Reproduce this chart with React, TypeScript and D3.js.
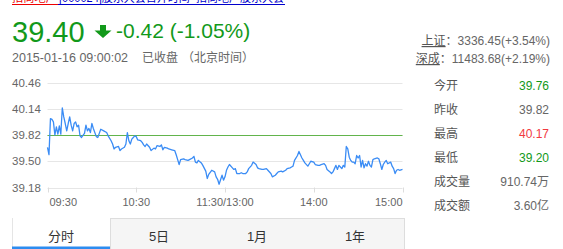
import React from 'react';
import * as d3 from 'd3';

// Intraday minute series: trading-minute index (0 = 09:30, 120 = 11:30/13:00, 240 = 15:00) and price
const minuteIdx = [
  0, 1, 2, 3, 4, 5, 6, 7, 8, 9, 10, 11, 12, 13, 14, 15, 16, 17, 18, 19, 20, 21, 22, 23, 25, 26, 27, 28, 29, 30,
  31, 33, 34, 35, 36, 38, 40, 41, 43, 44, 45, 46, 48, 49, 50, 52, 53, 54, 55, 56, 57, 58, 59, 60, 61, 63, 64, 65,
  66, 67, 69, 70, 72, 73, 74, 76, 77, 78, 79, 81, 82, 84, 86, 87, 88, 89, 90, 92, 93, 95, 96, 98, 99, 100, 101,
  102, 104, 105, 107, 108, 109, 111, 113, 114, 115, 116, 118, 119, 120, 121, 122, 123, 125, 126, 127, 128, 130,
  131, 132, 134, 135, 136, 138, 139, 141, 142, 143, 145, 146, 148, 149, 151, 152, 154, 155, 156, 158, 159, 161,
  162, 164, 165, 166, 167, 169, 170, 171, 172, 173, 174, 176, 177, 178, 180, 181, 183, 184, 185, 187, 188, 189,
  191, 192, 193, 194, 195, 196, 197, 198, 199, 200, 201, 202, 203, 204, 205, 206, 207, 208, 209, 210, 211, 212,
  213, 214, 215, 216, 217, 218, 219, 220, 221, 223, 224, 225, 226, 227, 228, 229, 230, 232, 233, 234, 235, 236,
  237, 238, 240,
];
const prices = [
  39.67, 39.58, 40.02, 40.01, 39.98, 39.82, 39.92, 39.83, 39.93, 39.83, 40.15, 40.04, 39.96, 39.87, 39.96, 40.04,
  39.94, 39.87, 39.96, 39.98, 39.92, 39.94, 39.81, 39.79, 39.84, 39.94, 39.87, 39.9, 39.85, 39.96,
  39.9, 39.8, 39.79, 39.84, 39.89, 39.87, 39.85, 39.81, 39.75, 39.71, 39.65, 39.67, 39.68, 39.63, 39.65, 39.67,
  39.71, 39.85, 39.75, 39.71, 39.77, 39.79, 39.81, 39.8, 39.76, 39.75, 39.73, 39.7,
  39.68, 39.71, 39.67, 39.63, 39.66, 39.65, 39.69, 39.68, 39.7, 39.64, 39.67, 39.66, 39.65, 39.64, 39.63, 39.58,
  39.52, 39.46, 39.52, 39.53, 39.52, 39.51, 39.52, 39.54, 39.56, 39.49, 39.48,
  39.51, 39.48, 39.45, 39.38, 39.29, 39.34, 39.39, 39.37, 39.31, 39.28, 39.22, 39.33, 39.27, 39.31, 39.39, 39.43,
  39.46, 39.42, 39.4, 39.41, 39.35, 39.35,
  39.36, 39.35, 39.35, 39.37, 39.41, 39.45, 39.49, 39.46, 39.42, 39.41, 39.4, 39.4, 39.41, 39.39, 39.35, 39.31,
  39.33, 39.35, 39.37, 39.38, 39.37, 39.39,
  39.41, 39.42, 39.43, 39.44, 39.51, 39.57, 39.62, 39.58, 39.54, 39.51, 39.48, 39.44, 39.47, 39.5, 39.49, 39.46,
  39.45, 39.45, 39.46, 39.47, 39.45, 39.4,
  39.37, 39.35, 39.37, 39.41, 39.45, 39.4, 39.45, 39.43, 39.41, 39.45, 39.43, 39.68, 39.65, 39.55, 39.51, 39.49,
  39.49, 39.47, 39.57, 39.54, 39.57, 39.43,
  39.51, 39.42, 39.47, 39.44, 39.5, 39.45, 39.43, 39.52, 39.53, 39.54, 39.53, 39.47, 39.4, 39.46, 39.49, 39.51,
  39.47, 39.49, 39.44, 39.41, 39.35, 39.39,
  39.4, 39.39, 39.4,
];

const yTicks = [40.46, 40.14, 39.82, 39.5, 39.18];
const xTickIdx = [0, 60, 120, 180, 240];
const xTickLabels = ['09:30', '10:30', '11:30/13:00', '14:00', '15:00'];

const stockName = '招商地产';
const headline = '[000024]股东大会召开时间_招商地产股东大会';
const lastPrice = 39.4;
const change = -0.42;
const changePct = -1.05;
const prevClose = 39.82;
const quoteTime = '2015-01-16 09:00:02';
const marketStatus = '已收盘';
const timeZoneNote = '（北京时间）';

const indexNames = ['上证', '深成'];
const indexValues = [3336.45, 11483.68];
const indexPcts = [3.54, 2.19];

const statLabels = ['今开', '昨收', '最高', '最低', '成交量', '成交额'];
const statPrices = [39.76, 39.82, 40.17, 39.2];
const statExtras = ['910.74万', '3.60亿'];

const tabLabels = ['分时', '5日', '1月', '1年'];

const FONT = "Arial, 'Liberation Sans', 'Noto Sans CJK SC', sans-serif";
const GREEN = '#12991a';
const RED = '#f2393f';
const GRAY = '#666';

const colorFor = (v: number) => (v > prevClose ? RED : v < prevClose ? GREEN : GRAY);
// plain ASCII hyphen for negatives
const fmt = (v: number) => v.toFixed(2);

export default function App() {
  const x = d3.scaleLinear().domain([0, 240]).range([47.5, 402.5]);
  const y = d3.scaleLinear().domain([39.18, 40.46]).range([187.5, 82.5]);
  const pts = minuteIdx.map((m, i) => [m, prices[i]] as [number, number]);
  const line = d3
    .line<[number, number]>()
    .x((d) => x(d[0]))
    .y((d) => y(d[1]));

  const tabW = 98;

  return (
    <svg
      width={563}
      height={249}
      style={{ position: 'absolute', left: 0, top: 0, background: '#fff' }}
      fontFamily={FONT}
    >
      {/* headline link, scrolled mostly out of view */}
      <text x={12} y={1.5} fontSize={12} fill="#e00" textLength={45} lengthAdjust="spacingAndGlyphs">
        {stockName}
      </text>
      <line x1={12} x2={58} y1={4.5} y2={4.5} stroke="#e00" />
      <text x={59} y={1.5} fontSize={12} fill="#00c" textLength={225} lengthAdjust="spacingAndGlyphs">
        {headline}
      </text>
      <line x1={58} x2={285} y1={4.5} y2={4.5} stroke="#00c" />

      {/* price header */}
      <text x={12} y={42} fontSize={29} fill={GREEN}>
        {fmt(lastPrice)}
      </text>
      <path d="M100,25 H106 V30.5 H111.5 L103,38 L94.5,30.5 H100 Z" fill={GREEN} />
      <text x={116} y={38} fontSize={21} fill={GREEN}>
        {`${fmt(change)} (${fmt(changePct)}%)`}
      </text>
      <text x={12} y={62} fontSize={12.5} fill={GRAY}>
        {quoteTime}
      </text>
      <text x={142} y={62} fontSize={12} fill={GRAY}>
        {marketStatus}
      </text>
      <text x={182} y={62} fontSize={12} fill={GRAY}>
        {timeZoneNote}
      </text>

      {/* market indices */}
      {indexNames.map((n, i) => (
        <text key={n} x={550} y={45 + i * 18} fontSize={12} fill={GRAY} textAnchor="end">
          <tspan fill="#555" textDecoration="underline">
            {n}
          </tspan>
          <tspan fill="#555">：</tspan>
          <tspan>{`${fmt(indexValues[i])}(+${fmt(indexPcts[i])}%)`}</tspan>
        </text>
      ))}

      {/* grid */}
      {yTicks.map((t) => (
        <g key={t}>
          <line x1={x(0)} x2={x(240)} y1={Math.round(y(t)) + 0.5} y2={Math.round(y(t)) + 0.5} stroke="#e6e6e6" />
          <text x={12} y={y(t) + 4} fontSize={11.5} fill={GRAY}>
            {fmt(t)}
          </text>
        </g>
      ))}
      {xTickIdx.map((t, i) => (
        <g key={t}>
          <line
            x1={Math.round(x(t)) + 0.5}
            x2={Math.round(x(t)) + 0.5}
            y1={y(39.18)}
            y2={y(39.18) + 5}
            stroke="#ddd"
          />
          <text
            x={i === 0 ? x(t) + 2 : x(t)}
            y={205.5}
            fontSize={11}
            fill={GRAY}
            textAnchor={i === 0 ? 'start' : i === xTickIdx.length - 1 ? 'end' : 'middle'}
          >
            {xTickLabels[i]}
          </text>
        </g>
      ))}

      {/* previous close */}
      <line
        x1={x(0)}
        x2={x(240)}
        y1={Math.round(y(prevClose)) + 0.5}
        y2={Math.round(y(prevClose)) + 0.5}
        stroke="#62b44c"
        strokeWidth={1.2}
      />
      {/* price line */}
      <path d={line(pts) || ''} fill="none" stroke="#3a8cf5" strokeWidth={1.3} strokeLinejoin="round" />

      {/* stats panel */}
      {statLabels.map((l, i) => {
        const isPrice = i < statPrices.length;
        const val = isPrice ? fmt(statPrices[i]) : statExtras[i - statPrices.length];
        const col = isPrice && i !== 1 ? colorFor(statPrices[i]) : GRAY;
        return (
          <g key={l}>
            <text x={434} y={89.5 + i * 24} fontSize={12} fill="#555">
              {l}
            </text>
            <text x={549} y={89.5 + i * 24} fontSize={12} fill={col} textAnchor="end">
              {val}
            </text>
          </g>
        );
      })}

      {/* period tabs */}
      <rect x={12} y={218} width={tabW} height={31} fill="#fff" />
      <line x1={12.5} x2={12.5} y1={218} y2={249} stroke="#e5e5e5" />
      <rect x={12 + tabW} y={218} width={tabW * 3} height={31} fill="#f5f5f5" />
      <line x1={12 + tabW} x2={12 + tabW * 4 + 1} y1={218.5} y2={218.5} stroke="#ddd" />
      <line x1={12.5 + tabW} x2={12.5 + tabW} y1={218} y2={249} stroke="#ddd" />
      <line x1={12.5 + tabW * 4} x2={12.5 + tabW * 4} y1={218} y2={249} stroke="#ddd" />
      <rect x={12} y={246.5} width={tabW} height={2.5} fill="#2d8cf0" />
      {tabLabels.map((t, i) => (
        <text key={t} x={12 + tabW * i + tabW / 2} y={241} fontSize={13} fill="#333" textAnchor="middle">
          {t}
        </text>
      ))}
    </svg>
  );
}
